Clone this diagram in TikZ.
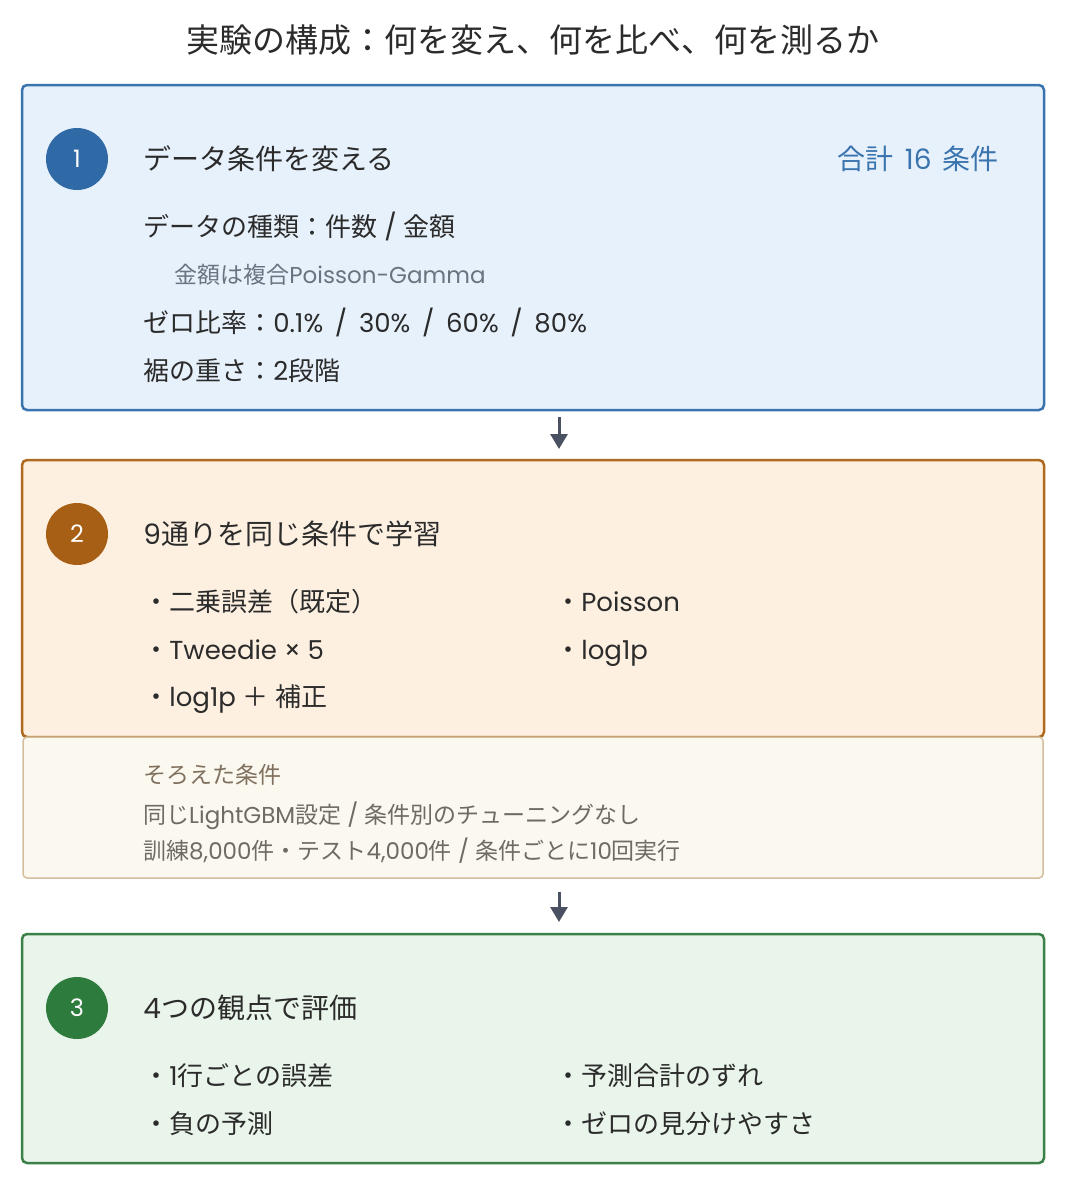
\documentclass[tikz,border=0pt]{standalone}
\usepackage{fontspec}
\setmainfont{Noto Sans CJK JP}
\newfontfamily\latfont{Poppins}
\newcommand\lat[1]{{\latfont #1}}
\newcommand\pctsep{\hspace{0.45em}/\hspace{0.45em}}
\usetikzlibrary{positioning, arrows.meta}
\definecolor{ink}{HTML}{2B2B2B}
\definecolor{notegray}{HTML}{6B7280}
\definecolor{arrowgray}{HTML}{4A5163}
\definecolor{blueline}{HTML}{3A74AE}
\definecolor{bluefill}{HTML}{E7F1FB}
\definecolor{bluedot}{HTML}{2F69A6}
\definecolor{brownline}{HTML}{AE6A1F}
\definecolor{brownfill}{HTML}{FDF0E1}
\definecolor{browndot}{HTML}{A65F14}
\definecolor{sandline}{HTML}{D3BF9F}
\definecolor{sandfill}{HTML}{FBF8EF}
\definecolor{sandtext}{HTML}{80705E}
\definecolor{sandgray}{HTML}{6F6A64}
\definecolor{greenline}{HTML}{3A8048}
\definecolor{greenfill}{HTML}{E9F4EA}
\definecolor{greendot}{HTML}{2E7B3E}
\tikzset{
  node distance=35pt,
  panel/.style={draw, line width=2.5pt, rounded corners=5pt, outer sep=0pt,
    inner sep=0pt, minimum width=1022pt},
  numdot/.style={circle, minimum size=62pt, inner sep=0pt, text=white,
    font=\latfont\fontsize{24}{24}\selectfont},
  head/.style={anchor=west, inner sep=0pt, text height=24pt, text depth=2.8pt,
    text=ink, font=\fontsize{28}{28}\selectfont},
  body/.style={head, text height=22.6pt, font=\fontsize{26}{26}\selectfont},
  note/.style={head, text height=20.2pt, text=notegray, font=\fontsize{23}{23}\selectfont},
  flow/.style={draw=arrowgray, line width=3pt, -{Triangle[length=15pt,width=17pt]}},
}

\begin{document}
\begin{tikzpicture}[x=1pt, y=-1pt]
  \useasboundingbox (0,0) rectangle (1066,1192);

  \node[text=ink, font=\fontsize{33}{33}\selectfont] (ttl) at (533,40)
    {実験の構成：何を変え、何を比べ、何を測るか};

  % step 1
  \node[panel, draw=blueline, fill=bluefill, minimum height=325pt] (b1) at (533,247.5) {};
  \node[numdot, fill=bluedot] (c1) at (77,159) {1};
  \node[head, right=of c1] (h1) {データ条件を変える};
  \node[head, text=blueline, anchor=east] (tot1) at ([xshift=-45pt]b1.east |- c1)
    {合計\lat{\hspace{0.4em}16\hspace{0.4em}}条件};
  \node[body] (kind) at ([yshift=-68pt]h1.west) {データの種類：件数\lat{ / }金額};
  \node[note] (gamma) at ([shift={(31pt,-48pt)}]kind.west) {金額は複合\lat{Poisson-Gamma}};
  \node[body] (zero) at ([yshift=-96pt]kind.west)
    {ゼロ比率：\lat{0.1\%\pctsep30\%\pctsep60\%\pctsep80\%}};
  \node[body] (tail) at ([yshift=-48pt]zero.west) {裾の重さ：\lat{2}段階};

  % step 2
  \node[panel, draw=brownline, fill=brownfill, minimum height=277pt] (b2) at (533,598.5) {};
  \node[panel, draw=sandline, fill=sandfill, line width=1.5pt, rounded corners=4pt,
    minimum width=1020pt, minimum height=141pt] (same) at (533,807.5) {};
  \node[numdot, fill=browndot] (c2) at (77,534) {2};
  \node[head, right=of c2] (h2) {\lat{9}通りを同じ条件で学習};
  \node[body] (mse) at ([yshift=-68pt]h2.west) {・二乗誤差（既定）};
  \node[body] (twd) at ([yshift=-48pt]mse.west) {・\lat{Tweedie × 5}};
  \node[body] (lgc) at ([yshift=-47pt]twd.west) {・\lat{log1p }＋\lat{ }補正};
  \node[body] (poi) at ([xshift=412pt]mse.west) {・\lat{Poisson}};
  \node[body] (lgp) at ([xshift=412pt]twd.west) {・\lat{log1p}};
  \node[note, text=sandtext] (sttl) at (143,775) {そろえた条件};
  \node[note, text=sandgray] (set1) at ([yshift=-40pt]sttl.west) {同じ\lat{LightGBM}設定\lat{ / }条件別のチューニングなし};
  \node[note, text=sandgray] (set2) at ([yshift=-36pt]set1.west) {訓練\lat{8,000}件・テスト\lat{4,000}件\lat{ / }条件ごとに\lat{10}回実行};

  % step 3
  \node[panel, draw=greenline, fill=greenfill, minimum height=229pt] (b3) at (533,1048.5) {};
  \node[numdot, fill=greendot] (c3) at (77,1008) {3};
  \node[head, right=of c3] (h3) {\lat{4}つの観点で評価};
  \node[body] (err) at ([yshift=-68pt]h3.west) {・\lat{1}行ごとの誤差};
  \node[body] (neg) at ([yshift=-48pt]err.west) {・負の予測};
  \node[body] (sum) at ([xshift=412pt]err.west) {・予測合計のずれ};
  \node[body] (sep) at ([xshift=412pt]neg.west) {・ゼロの見分けやすさ};

  \draw[flow, shorten <=7pt, shorten >=11pt] ([xshift=26pt]b1.south) -- ([xshift=26pt]b2.north);
  \draw[flow, shorten <=14pt, shorten >=12pt] ([xshift=26pt]same.south) -- ([xshift=26pt]b3.north);
\end{tikzpicture}
\end{document}
